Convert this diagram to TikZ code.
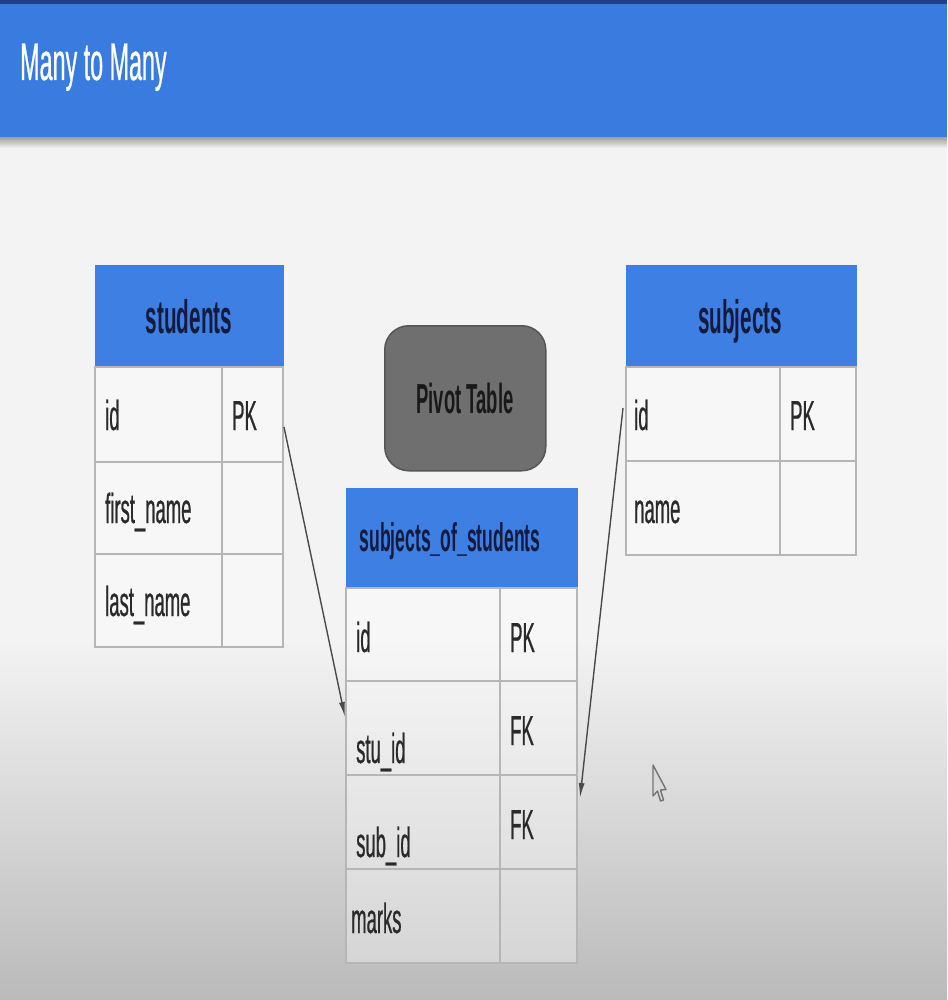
\documentclass[tikz,border=0pt]{standalone}
\usepackage{fontspec}
\setmainfont[FakeStretch=0.44]{Liberation Sans}
\newfontfamily\bodyfont[FakeStretch=0.44,FakeBold=0.5]{Liberation Sans}
\usetikzlibrary{arrows.meta}
\definecolor{topstrip}{HTML}{1F3F86}
\definecolor{band}{HTML}{3A7BE0}
\definecolor{hdrblue}{HTML}{3D7FE2}
\definecolor{bgc}{HTML}{F3F3F3}
\definecolor{bgbot}{HTML}{BABABA}
\definecolor{cellline}{HTML}{B6B6B6}
\definecolor{hdrtext}{HTML}{151B3C}
\definecolor{bodytext}{HTML}{2A2A2A}
\definecolor{pivotfill}{HTML}{6F6F6F}
\definecolor{pivotline}{HTML}{555555}
\definecolor{conncol}{HTML}{4A4A4A}
\tikzset{
  cellbox/.style={rectangle, draw=cellline, fill=white, fill opacity=0.35, draw opacity=1, line width=2pt, anchor=north west, inner sep=0pt, outer sep=0pt},
  hdrbox/.style={rectangle, draw=hdrblue, fill=hdrblue, line width=1pt, anchor=north west, inner sep=0pt, outer sep=0pt},
  celltext/.style={font=\bodyfont\fontsize{42}{48}\selectfont, text=bodytext, inner sep=0pt, anchor=base west},
  hdrtext/.style={font=\bfseries\fontsize{47}{52}\selectfont, text=hdrtext, inner sep=0pt, anchor=base},
  pivotbox/.style={rectangle, rounded corners=24pt, draw=pivotline, fill=pivotfill, line width=1.5pt, anchor=north west, inner sep=0pt},
  conn/.style={draw=conncol, line width=1.4pt, -{Latex[length=15pt,width=6pt]}},
}
\begin{document}
\begin{tikzpicture}[x=1pt,y=-1pt]
\useasboundingbox (0,0) rectangle (947,1000);
% background
\fill[bgc] (0,0) rectangle (947,1000);
\shade[top color=bgc, bottom color=bgbot] (0,640) rectangle (947,1000);
% header band
\fill[band] (0,0) rectangle (947,138);
\fill[topstrip] (0,0) rectangle (947,4);
\shade[top color=black!35, bottom color=bgc] (0,138) rectangle (947,148);
\node[font=\bodyfont\fontsize{53}{60}\selectfont, text=white, inner sep=0pt, anchor=base west] (title) at (20,80) {Many to Many};

% students table
\node[hdrbox, minimum width=188, minimum height=102] (stuH) at (95,265) {};
\node[cellbox, minimum width=127, minimum height=95] (stuIdN) at (95,367) {};
\node[cellbox, minimum width=61, minimum height=95] (stuIdK) at (222,367) {};
\node[cellbox, minimum width=127, minimum height=92] (stuFnN) at (95,462) {};
\node[cellbox, minimum width=61, minimum height=92] (stuFnK) at (222,462) {};
\node[cellbox, minimum width=127, minimum height=93] (stuLnN) at (95,554) {};
\node[cellbox, minimum width=61, minimum height=93] (stuLnK) at (222,554) {};
\node[hdrtext] (tStuH) at (189,333) {students};
\node[celltext] (tStuId) at (105,430) {id};
\node[celltext] (tStuPK) at (232,430) {PK};
\node[celltext] (tStuFn) at (105,523) {first\_name};
\node[celltext] (tStuLn) at (105,616) {last\_name};

% subjects table
\node[hdrbox, minimum width=230, minimum height=102] (subH) at (626,265) {};
\node[cellbox, minimum width=154, minimum height=94] (subIdN) at (626,367) {};
\node[cellbox, minimum width=76, minimum height=94] (subIdK) at (780,367) {};
\node[cellbox, minimum width=154, minimum height=94] (subNmN) at (626,461) {};
\node[cellbox, minimum width=76, minimum height=94] (subNmK) at (780,461) {};
\node[hdrtext] (tSubH) at (740,333) {subjects};
\node[celltext] (tSubId) at (634,430) {id};
\node[celltext] (tSubPK) at (790,430) {PK};
\node[celltext] (tSubNm) at (634,523) {name};

% pivot label
\node[pivotbox, minimum width=161, minimum height=145] (pivot) at (384,325) {};
\node[font=\bfseries\fontsize{42}{48}\selectfont, text=black!90, inner sep=0pt, anchor=base] (tPivot) at (465,413) {Pivot Table};

% subjects_of_students table
\node[hdrbox, minimum width=231, minimum height=100] (sosH) at (346,488) {};
\node[cellbox, minimum width=154, minimum height=93] (sosIdN) at (346,588) {};
\node[cellbox, minimum width=77, minimum height=93] (sosIdK) at (500,588) {};
\node[cellbox, minimum width=154, minimum height=94] (sosStuN) at (346,681) {};
\node[cellbox, minimum width=77, minimum height=94] (sosStuK) at (500,681) {};
\node[cellbox, minimum width=154, minimum height=94] (sosSubN) at (346,775) {};
\node[cellbox, minimum width=77, minimum height=94] (sosSubK) at (500,775) {};
\node[cellbox, minimum width=154, minimum height=94] (sosMkN) at (346,869) {};
\node[cellbox, minimum width=77, minimum height=94] (sosMkK) at (500,869) {};
\node[hdrtext, font=\bfseries\fontsize{40}{44}\selectfont] (tSosH) at (450,551) {subjects\_of\_students};
\node[celltext] (tSosId) at (356,652) {id};
\node[celltext] (tSosPK) at (510,652) {PK};
\node[celltext] (tSosStu) at (356,763) {stu\_id};
\node[celltext] (tSosFK1) at (510,745) {FK};
\node[celltext] (tSosSub) at (356,857) {sub\_id};
\node[celltext] (tSosFK2) at (510,839) {FK};
\node[celltext] (tSosMk) at (351,933) {marks};

% connectors
\draw[conn] ([xshift=1pt,yshift=-12.5pt]stuIdK.east) -- ([xshift=-1pt,yshift=11pt]sosStuN.west);
\draw[conn] ([xshift=-3pt,yshift=6pt]subIdN.west) -- ([xshift=3pt,yshift=24pt]sosSubK.east);

% mouse pointer
\draw[black!55, line width=1.4pt, line join=round, fill=white!85!black] (653,765) -- (653,796) -- (657.5,791) -- (660.5,801) -- (663.5,800) -- (660.5,790) -- (666,789.5) -- cycle;
\end{tikzpicture}
\end{document}
